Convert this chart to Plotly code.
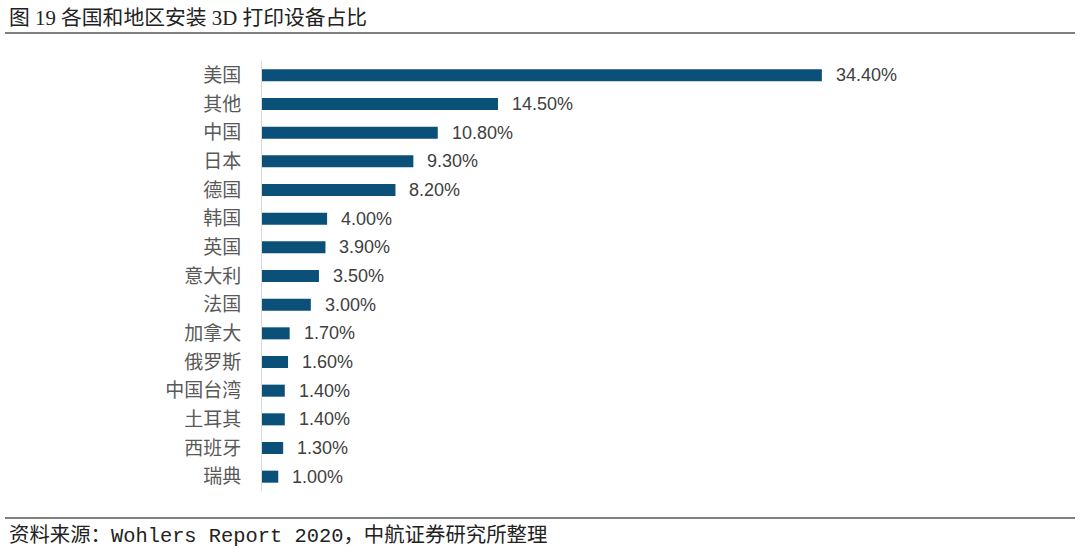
import plotly.graph_objects as go

categories = ["美国", "其他", "中国", "日本", "德国", "韩国", "英国", "意大利", "法国",
              "加拿大", "俄罗斯", "中国台湾", "土耳其", "西班牙", "瑞典"]
values = [34.4, 14.5, 10.8, 9.3, 8.2, 4.0, 3.9, 3.5, 3.0, 1.7, 1.6, 1.4, 1.4, 1.3, 1.0]

title_text = "图 19 各国和地区安装 3D 打印设备占比"
source_text = "资料来源：Wohlers Report 2020，中航证券研究所整理"

font_cjk = "Noto Sans CJK SC"

W, H = 1080, 554
L, R, T, B = 262, 167, 61, 63
PW, PH = W - L - R, H - T - B


def px_x(px):
    return (px - L) / PW


def px_y(py):
    return (H - B - py) / PH


fig = go.Figure(go.Bar(
    x=values, y=categories, orientation="h",
    marker=dict(color="#0b5078", line=dict(width=0)),
    width=0.42,
))

for v, c in zip(values, categories):
    fig.add_annotation(x=v, y=c, xref="x", yref="y", text=f"{v:.2f}%", showarrow=False,
                       xanchor="left", yanchor="middle", xshift=12,
                       font=dict(family="Liberation Sans, Arial", size=18, color="#404040"))

fig.update_layout(
    width=W, height=H,
    margin=dict(l=L, r=R, t=T, b=B, autoexpand=False),
    paper_bgcolor="white", plot_bgcolor="white",
    showlegend=False,
    xaxis=dict(range=[0, 40], visible=False, showgrid=False, zeroline=False, automargin=False),
    yaxis=dict(autorange="reversed", showline=True, linecolor="#d9d9d9", linewidth=1,
               showgrid=False, ticks="", ticklabelstandoff=16, automargin=False,
               tickfont=dict(family=font_cjk, size=19, color="#595959")),
    font=dict(family=font_cjk),
)

fig.add_annotation(x=px_x(7), y=px_y(17), xref="paper", yref="paper", xanchor="left", yanchor="middle",
                   text=title_text, showarrow=False,
                   font=dict(family="Liberation Serif, " + font_cjk, size=20.8, color="#222222"))
fig.add_annotation(x=px_x(7), y=px_y(536), xref="paper", yref="paper", xanchor="left", yanchor="middle",
                   text=source_text, showarrow=False,
                   font=dict(family="Liberation Mono, " + font_cjk, size=20.4, color="#222222"))
fig.add_shape(type="line", xref="paper", yref="paper", x0=px_x(5), x1=px_x(1075),
              y0=px_y(33), y1=px_y(33), line=dict(color="#555555", width=1.5))
fig.add_shape(type="line", xref="paper", yref="paper", x0=px_x(5), x1=px_x(1075),
              y0=px_y(518), y1=px_y(518), line=dict(color="#555555", width=1.5))

fig.write_html("out.html", config={"displayModeBar": False},
               post_script="document.body.style.margin='0';")
